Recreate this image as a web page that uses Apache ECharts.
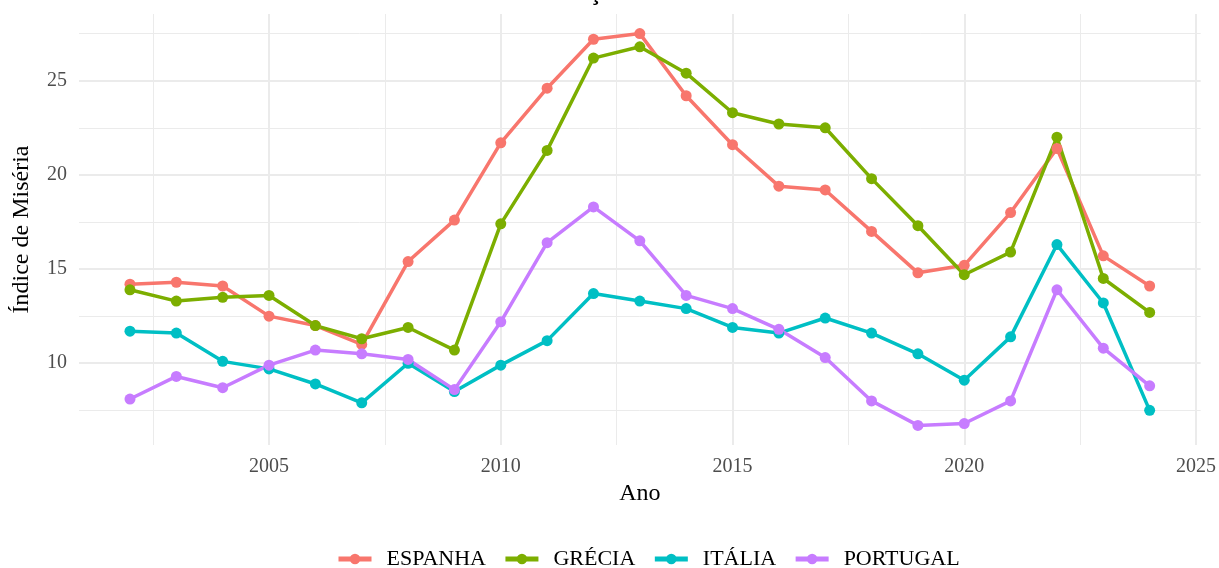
<!DOCTYPE html>
<html>
<head>
<meta charset="utf-8"/>
<script src="https://cdn.jsdelivr.net/npm/echarts@6/dist/echarts.min.js"></script>
</head>
<body style="margin:0">
<div id="chart" style="width:1219px;height:568px"></div>
<script>
    // anos e valores do indice de miseria
    var anos = [2002, 2003, 2004, 2005, 2006, 2007, 2008, 2009, 2010, 2011, 2012, 2013,
        2014, 2015, 2016, 2017, 2018, 2019, 2020, 2021, 2022, 2023, 2024];
    var espanha = [14.2, 14.3, 14.1, 12.5, 12.0, 11.0, 15.4, 17.6, 21.7, 24.6, 27.2, 27.5,
        24.2, 21.6, 19.4, 19.2, 17.0, 14.8, 15.2, 18.0, 21.4, 15.7, 14.1];
    var grecia = [13.9, 13.3, 13.5, 13.6, 12.0, 11.3, 11.9, 10.7, 17.4, 21.3, 26.2, 26.8,
        25.4, 23.3, 22.7, 22.5, 19.8, 17.3, 14.7, 15.9, 22.0, 14.5, 12.7];
    var italia = [11.7, 11.6, 10.1, 9.7, 8.9, 7.9, 10.0, 8.5, 9.9, 11.2, 13.7, 13.3,
        12.9, 11.9, 11.6, 12.4, 11.6, 10.5, 9.1, 11.4, 16.3, 13.2, 7.5];
    var portugal = [8.1, 9.3, 8.7, 9.9, 10.7, 10.5, 10.2, 8.6, 12.2, 16.4, 18.3, 16.5,
        13.6, 12.9, 11.8, 10.3, 8.0, 6.7, 6.8, 8.0, 13.9, 10.8, 8.8];

    var paises = ['ESPANHA', 'GRÉCIA', 'ITÁLIA', 'PORTUGAL'];
    var cores = ['#F8766D', '#7CAE00', '#00BFC4', '#C77CFF'];

    // ticks dos eixos
    var xTicks = [2005, 2010, 2015, 2020, 2025];
    var xMinor = [2002.5, 2007.5, 2012.5, 2017.5, 2022.5];
    var yTicks = [10, 15, 20, 25];
    var yMinor = [7.5, 12.5, 17.5, 22.5, 27.5];

    var fonte = 'Liberation Serif';

    function pares(vals) {
        return anos.map(function (a, i) { return [a, vals[i]]; });
    }

    var myChart = echarts.init(document.getElementById('chart'));

    var series = [espanha, grecia, italia, portugal].map(function (vals, i) {
        return {
            name: paises[i],
            type: 'line',
            data: pares(vals),
            symbol: 'circle',
            symbolSize: 11,
            lineStyle: {width: 3.5, color: cores[i]},
            itemStyle: {color: cores[i]},
            emphasis: {disabled: true}
        };
    });

    var option = {
        animation: false,
        title: {
            text: 'Evolução do Índice de Miséria',
            left: 525,
            top: -23,
            textStyle: {fontFamily: fonte, fontSize: 24, fontWeight: 'bold', color: '#000'}
        },
        legend: {
            data: paises,
            left: 331,
            top: 543,
            itemWidth: 33,
            itemHeight: 13,
            itemGap: 17,
            lineStyle: {width: 5},
            textStyle: {fontFamily: fonte, fontSize: 22, color: '#000', padding: [0, 0, 0, 10]}
        },
        grid: {left: 79, right: 13, top: 14, bottom: 123},
        xAxis: [{
            type: 'value',
            min: 2000.9,
            max: 2025.1,
            name: 'Ano',
            nameLocation: 'middle',
            nameGap: 33,
            nameTextStyle: {fontFamily: fonte, fontSize: 24, color: '#000'},
            axisLine: {show: false},
            axisTick: {show: false, customValues: xTicks},
            axisLabel: {
                customValues: xTicks, fontFamily: fonte, fontSize: 20, color: '#4D4D4D', margin: 12,
                formatter: function (v) { return String(v); }
            },
            splitLine: {show: true, lineStyle: {color: '#EBEBEB', width: 2}}
        }, {
            type: 'value',
            min: 2000.9,
            max: 2025.1,
            axisLine: {show: false},
            axisTick: {show: false, customValues: xMinor},
            axisLabel: {show: false, customValues: xMinor},
            splitLine: {show: true, lineStyle: {color: '#EBEBEB', width: 1}}
        }],
        yAxis: [{
            type: 'value',
            min: 5.66,
            max: 28.54,
            name: 'Índice de Miséria',
            nameLocation: 'middle',
            nameGap: 45,
            nameTextStyle: {fontFamily: fonte, fontSize: 24, color: '#000'},
            axisLine: {show: false},
            axisTick: {show: false, customValues: yTicks},
            axisLabel: {customValues: yTicks, fontFamily: fonte, fontSize: 20, color: '#4D4D4D', margin: 12},
            splitLine: {show: true, lineStyle: {color: '#EBEBEB', width: 2}}
        }, {
            type: 'value',
            min: 5.66,
            max: 28.54,
            axisLine: {show: false},
            axisTick: {show: false, customValues: yMinor},
            axisLabel: {show: false, customValues: yMinor},
            splitLine: {show: true, lineStyle: {color: '#EBEBEB', width: 1}}
        }],
        series: series
    };
    myChart.setOption(option);
</script>
</body>
</html>
